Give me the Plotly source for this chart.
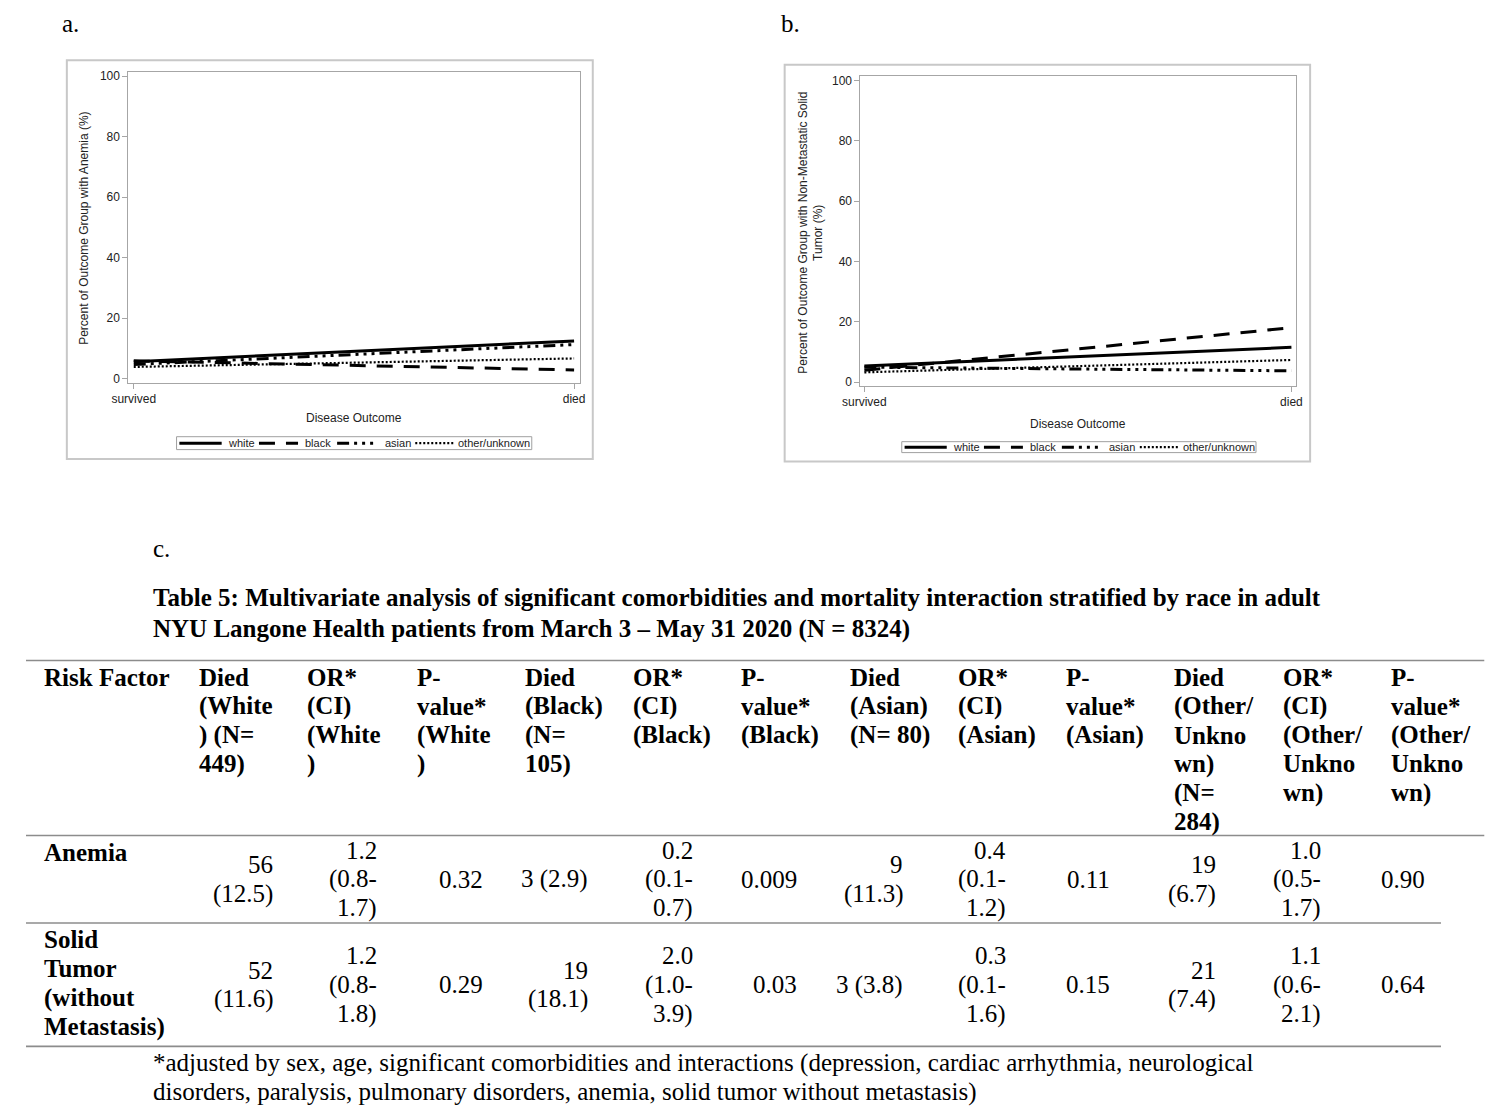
import plotly.graph_objects as go

W, H = 1500, 1116
OFF = 8  # page body margin of the browser

# ---------------- data: line charts ----------------
outcomes = ["survived", "died"]
races = ["white", "black", "asian", "other/unknown"]

# panel a: percent of outcome group with anemia
anemia_white = [5.6, 12.5]
anemia_black = [5.9, 2.9]
anemia_asian = [4.7, 11.3]
anemia_other = [3.9, 6.7]

# panel b: percent of outcome group with non-metastatic solid tumor
tumor_white = [5.4, 11.6]
tumor_black = [4.0, 18.1]
tumor_asian = [5.0, 3.8]
tumor_other = [3.3, 7.4]

y_ticks = [0, 20, 40, 60, 80, 100]

# ---------------- data: table ----------------
header_lines = [
    ["Risk Factor"],
    ["Died", "(White", ") (N=", "449)"],
    ["OR*", "(CI)", "(White", ")"],
    ["P-", "value*", "(White", ")"],
    ["Died", "(Black)", "(N=", "105)"],
    ["OR*", "(CI)", "(Black)"],
    ["P-", "value*", "(Black)"],
    ["Died", "(Asian)", "(N= 80)"],
    ["OR*", "(CI)", "(Asian)"],
    ["P-", "value*", "(Asian)"],
    ["Died", "(Other/", "Unkno", "wn)", "(N=", "284)"],
    ["OR*", "(CI)", "(Other/", "Unkno", "wn)"],
    ["P-", "value*", "(Other/", "Unkno", "wn)"],
]
risk_factor_lines = [["Anemia"], ["Solid", "Tumor", "(without", "Metastasis)"]]

died_white = [56, 52]
died_white_pct = [12.5, 11.6]
died_black = [3, 19]
died_black_pct = [2.9, 18.1]
died_asian = [9, 3]
died_asian_pct = [11.3, 3.8]
died_other = [19, 21]
died_other_pct = [6.7, 7.4]

or_white = [1.2, 1.2]
ci_white_lo = [0.8, 0.8]
ci_white_hi = [1.7, 1.8]
or_black = [0.2, 2.0]
ci_black_lo = [0.1, 1.0]
ci_black_hi = [0.7, 3.9]
or_asian = [0.4, 0.3]
ci_asian_lo = [0.1, 0.1]
ci_asian_hi = [1.2, 1.6]
or_other = [1.0, 1.1]
ci_other_lo = [0.5, 0.6]
ci_other_hi = [1.7, 2.1]

p_white = ["0.32", "0.29"]
p_black = ["0.009", "0.03"]
p_asian = ["0.11", "0.15"]
p_other = ["0.90", "0.64"]

title_lines = [
    "Table 5: Multivariate analysis of significant comorbidities and mortality interaction stratified by race in adult",
    "NYU Langone Health patients from March 3 \u2013 May 31 2020 (N = 8324)",
]
footnote_lines = [
    "*adjusted by sex, age, significant comorbidities and interactions (depression, cardiac arrhythmia, neurological",
    "disorders, paralysis, pulmonary disorders, anemia, solid tumor without metastasis)",
]

# ---------------- styles / layout ----------------
SANS = "Liberation Sans"
SERIF = "Liberation Serif"
dashes = ["solid", "16px,11px", "12px,5px,3px,5px,3px,5px,3px,5px", "2px,2px"]
widths = [3, 3, 3, 2.2]
frame_col = "#a6a6a6"
txt_col = "#222222"


def px(x):
    return (x - OFF) / W


def py(y):
    return 1 - (y - OFF) / H


fig = go.Figure()

panels = [
    dict(xa="x", ya="y", series=[anemia_white, anemia_black, anemia_asian, anemia_other]),
    dict(xa="x2", ya="y2", series=[tumor_white, tumor_black, tumor_asian, tumor_other]),
]
for p in panels:
    for i, race in enumerate(races):
        fig.add_trace(go.Scatter(
            x=outcomes, y=p["series"][i], mode="lines", name=race,
            xaxis=p["xa"], yaxis=p["ya"], showlegend=False,
            line=dict(color="black", width=widths[i], dash=dashes[i]),
        ))

axis_common = dict(
    showline=True, mirror=True, linecolor=frame_col, linewidth=1,
    ticks="outside", ticklen=5, tickcolor=frame_col, tickwidth=1,
    showgrid=False, zeroline=False, fixedrange=True,
    tickfont=dict(family=SANS, size=12, color=txt_col),
)

fig.update_layout(
    width=W, height=H, margin=dict(l=0, r=0, t=0, b=0),
    paper_bgcolor="white", plot_bgcolor="white", showlegend=False,
    xaxis=dict(domain=[px(112), px(571)], anchor="y", type="category",
               range=[-0.0123, 1.0134], **axis_common),
    yaxis=dict(domain=[py(383), py(70)], anchor="x", range=[-1.41, 101.48],
               tickvals=y_ticks, **axis_common),
    xaxis2=dict(domain=[px(856), px(1299)], anchor="y2", type="category",
                range=[-0.0092, 1.0115], **axis_common),
    yaxis2=dict(domain=[py(386), py(74.3)], anchor="x2", range=[-1.22, 101.55],
                tickvals=y_ticks, **axis_common),
)

shapes = []
annots = []


def text(x, y, s, anchor="left", family=SERIF, size=25, color="black", angle=0):
    annots.append(dict(
        x=px(x), y=py(y), xref="paper", yref="paper", text=s, showarrow=False,
        xanchor=anchor, yanchor="middle", textangle=angle,
        font=dict(family=family, size=size, color=color),
    ))


def hline(x0, x1, y, color="#8c8c8c", width=1.6):
    shapes.append(dict(type="line", xref="paper", yref="paper",
                       x0=px(x0), x1=px(x1), y0=py(y), y1=py(y),
                       line=dict(color=color, width=width)))


# outer chart borders
for (x0, y0, x1, y1) in [(49.5, 58.5, 584, 459.5), (779, 63, 1313, 462)]:
    shapes.append(dict(type="rect", xref="paper", yref="paper",
                       x0=px(x0), x1=px(x1), y0=py(y1), y1=py(y0),
                       line=dict(color="#c8c8c8", width=2)))

# panel letters
text(43, 22, "a.")
text(773, 22, "b.")
text(135, 549, "c.")

# axis titles
text(341.5, 418, "Disease Outcome", anchor="center", family=SANS, size=12, color=txt_col)
text(1077.5, 424, "Disease Outcome", anchor="center", family=SANS, size=12, color=txt_col)
text(67, 228, "Percent of Outcome Group with Anemia (%)", anchor="center",
     family=SANS, size=12, color=txt_col, angle=-90)
text(797.5, 232, "Percent of Outcome Group with Non-Metastatic Solid", anchor="center",
     family=SANS, size=12, color=txt_col, angle=-90)
text(813, 232, "Tumor (%)", anchor="center", family=SANS, size=12, color=txt_col, angle=-90)

# manual legends (SAS style single row)
sample_start = [0.008, 0.232, 0.452, 0.672]
sample_end = [0.127, 0.342, 0.562, 0.782]
label_start = [0.138, 0.355, 0.58, 0.788]
for (lx0, lx1, ly0, ly1) in [(161, 522, 437, 450), (898, 1258, 442, 453)]:
    shapes.append(dict(type="rect", xref="paper", yref="paper",
                       x0=px(lx0), x1=px(lx1), y0=py(ly1), y1=py(ly0),
                       line=dict(color="#a0a0a0", width=1), fillcolor="white"))
    lw = lx1 - lx0
    ym = (ly0 + ly1) / 2
    for i, race in enumerate(races):
        shapes.append(dict(type="line", xref="paper", yref="paper",
                           x0=px(lx0 + lw * sample_start[i]), x1=px(lx0 + lw * sample_end[i]),
                           y0=py(ym), y1=py(ym),
                           line=dict(color="black", width=widths[i], dash=dashes[i])))
        text(lx0 + lw * label_start[i], ym, race, family=SANS, size=11, color=txt_col)

# table title
text(135, 599, "<b>" + title_lines[0] + "</b>")
text(135, 630, "<b>" + title_lines[1] + "</b>")

# table rules
hline(8, 1490, 662)
hline(8, 1490, 838)
hline(8, 1446, 926)
hline(8, 1446, 1050)

LINE = 29
col_left = [24, 182, 292, 403, 513, 623, 733, 843, 953, 1063, 1173, 1283, 1393]
col_right = [None, 261, 367, 474, 581, 688, 794, 901, 1006, 1112, 1219, 1326, 1432]

header_top = 679
for c, lines in enumerate(header_lines):
    for k, ln in enumerate(lines):
        text(col_left[c], header_top + k * LINE, "<b>" + ln + "</b>")

row_tops = [838, 926]
row_bottoms = [926, 1050]


def died_cell(n, pct):
    s = f"{n} ({pct:.1f})"
    return [s] if len(s) <= 7 else [f"{n}", f"({pct:.1f})"]


def or_cell(o, lo, hi):
    return [f"{o:.1f}", f"({lo:.1f}-", f"{hi:.1f})"]


race_data = [
    (died_white, died_white_pct, or_white, ci_white_lo, ci_white_hi, p_white),
    (died_black, died_black_pct, or_black, ci_black_lo, ci_black_hi, p_black),
    (died_asian, died_asian_pct, or_asian, ci_asian_lo, ci_asian_hi, p_asian),
    (died_other, died_other_pct, or_other, ci_other_lo, ci_other_hi, p_other),
]

for r in range(len(risk_factor_lines)):
    top = row_tops[r]
    center = (row_tops[r] + row_bottoms[r]) / 2
    for k, ln in enumerate(risk_factor_lines[r]):
        text(col_left[0], top + 17 + k * LINE, "<b>" + ln + "</b>")
    for j, (dn, dp, orv, lo, hi, pv) in enumerate(race_data):
        cells = [died_cell(dn[r], dp[r]), or_cell(orv[r], lo[r], hi[r]), [pv[r]]]
        for m, lines in enumerate(cells):
            c = 1 + 3 * j + m
            n = len(lines)
            for k, ln in enumerate(lines):
                text(col_right[c], center + (k - (n - 1) / 2) * LINE, ln, anchor="right")

# footnote
text(135, 1067, footnote_lines[0])
text(135, 1096, footnote_lines[1])

fig.update_layout(shapes=shapes, annotations=annots)
fig.write_html("out.html")
